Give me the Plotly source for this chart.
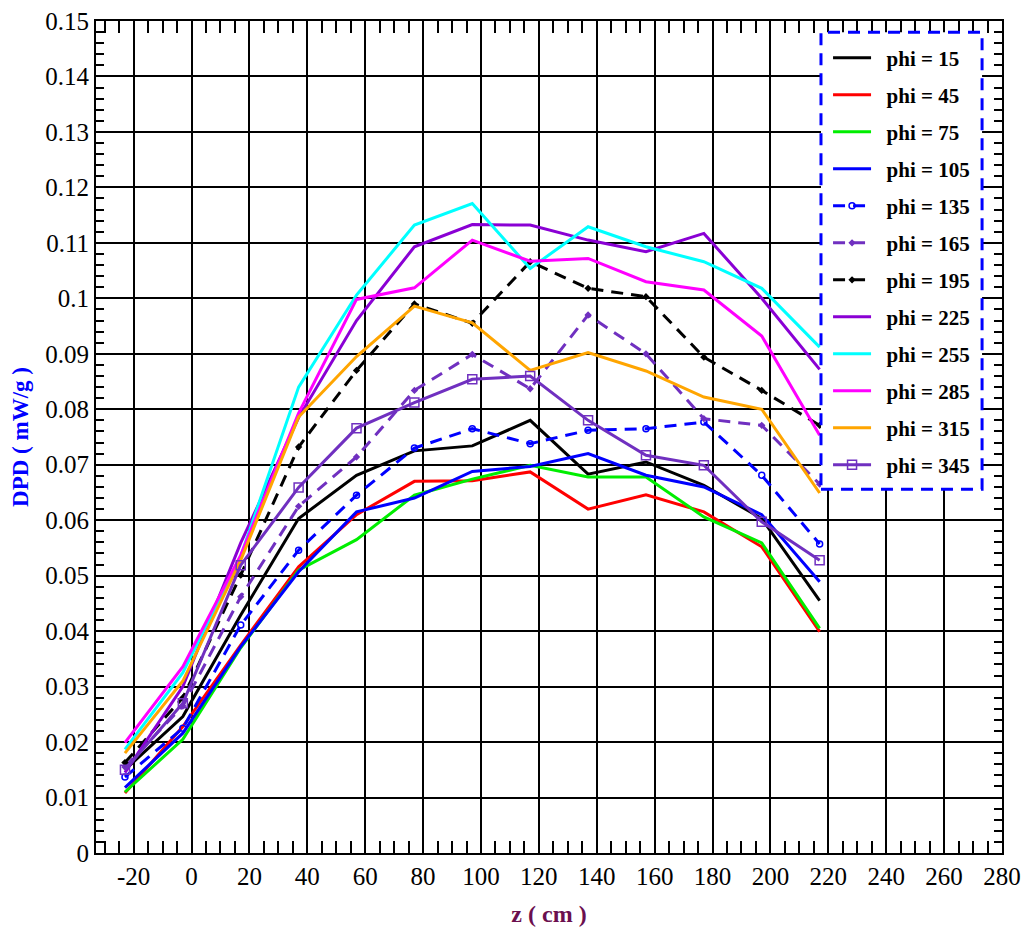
import plotly.graph_objects as go

z = [-23, -3, 17, 37, 57, 77, 97, 117, 137, 157, 177, 197, 217]

phi15 = [0.015, 0.0246, 0.0429, 0.0603, 0.0681, 0.0725, 0.0734, 0.078, 0.0683, 0.0705, 0.0663, 0.0603, 0.0455]
phi45 = [0.0108, 0.0228, 0.0375, 0.0516, 0.061, 0.067, 0.0671, 0.0687, 0.062, 0.0646, 0.0615, 0.0552, 0.0399]
phi75 = [0.011, 0.0205, 0.037, 0.051, 0.0565, 0.0645, 0.0674, 0.0699, 0.0678, 0.0678, 0.0606, 0.0559, 0.0405]
phi105 = [0.0118, 0.0216, 0.0372, 0.0507, 0.0615, 0.064, 0.0688, 0.0697, 0.072, 0.0681, 0.066, 0.061, 0.0489]
phi135 = [0.0137, 0.0225, 0.0411, 0.0546, 0.0645, 0.073, 0.0765, 0.0738, 0.0762, 0.0765, 0.0777, 0.0681, 0.0557]
phi165 = [0.0155, 0.0265, 0.0462, 0.0625, 0.0714, 0.0834, 0.0899, 0.0837, 0.097, 0.09, 0.0783, 0.0771, 0.0665]
phi195 = [0.0163, 0.028, 0.0501, 0.0732, 0.087, 0.099, 0.0955, 0.1066, 0.1018, 0.1003, 0.0894, 0.0834, 0.0771]
phi225 = [0.0145, 0.030, 0.0559, 0.0785, 0.096, 0.1093, 0.1133, 0.1132, 0.1105, 0.1084, 0.1117, 0.10, 0.0872]
phi255 = [0.0187, 0.0325, 0.0535, 0.084, 0.1006, 0.1132, 0.1171, 0.1054, 0.1129, 0.1093, 0.1066, 0.1018, 0.0912]
phi285 = [0.0199, 0.0336, 0.0537, 0.0793, 0.0998, 0.1019, 0.1105, 0.1067, 0.1072, 0.103, 0.1015, 0.0932, 0.0753]
phi315 = [0.018, 0.031, 0.0528, 0.0786, 0.0895, 0.0986, 0.0956, 0.087, 0.0902, 0.0869, 0.0822, 0.08, 0.0649]
phi345 = [0.015, 0.027, 0.0519, 0.0659, 0.0766, 0.0812, 0.0854, 0.086, 0.078, 0.0717, 0.0699, 0.0597, 0.0528]

series_names = ["phi = 15", "phi = 45", "phi = 75", "phi = 105", "phi = 135", "phi = 165",
                "phi = 195", "phi = 225", "phi = 255", "phi = 285", "phi = 315", "phi = 345"]
series_values = [phi15, phi45, phi75, phi105, phi135, phi165, phi195, phi225, phi255, phi285, phi315, phi345]

x_tickvals = [-20, 0, 20, 40, 60, 80, 100, 120, 140, 160, 180, 200, 220, 240, 260, 280]
x_ticktext = ["-20", "0", "20", "40", "60", "80", "100", "120", "140", "160", "180", "200", "220", "240", "260", "280"]
y_tickvals = [0, 0.01, 0.02, 0.03, 0.04, 0.05, 0.06, 0.07, 0.08, 0.09, 0.1, 0.11, 0.12, 0.13, 0.14, 0.15]
y_ticktext = ["0", "0.01", "0.02", "0.03", "0.04", "0.05", "0.06", "0.07", "0.08", "0.09", "0.1",
              "0.11", "0.12", "0.13", "0.14", "0.15"]

styles = [
    dict(color="#000000", dash="solid", symbol=None),
    dict(color="#ff0000", dash="solid", symbol=None),
    dict(color="#00ee00", dash="solid", symbol=None),
    dict(color="#0000ff", dash="solid", symbol=None),
    dict(color="#0000ff", dash="12px,8px", symbol="circle-open", size=6),
    dict(color="#7030c0", dash="12px,8px", symbol="diamond", size=4),
    dict(color="#000000", dash="12px,8px", symbol="diamond", size=4),
    dict(color="#8a00d4", dash="solid", symbol=None),
    dict(color="#00ffff", dash="solid", symbol=None),
    dict(color="#ff00ff", dash="solid", symbol=None),
    dict(color="#ffa500", dash="solid", symbol=None),
    dict(color="#7030c0", dash="solid", symbol="square-open", size=9),
]

fig = go.Figure()
for i, (name, vals, st) in enumerate(zip(series_names, series_values, styles)):
    mode = "lines+markers" if st["symbol"] else "lines"
    kw = {}
    if st["symbol"]:
        kw["marker"] = dict(symbol=st["symbol"], size=st["size"], color=st["color"],
                            line=dict(color=st["color"], width=1.5))
    fig.add_trace(go.Scatter(x=z, y=vals, name=f"&nbsp;&nbsp;<b>{name}</b>", mode=mode, legendgroup=f"g{i}",
                             line=dict(color=st["color"], width=3, dash=st["dash"]), **kw))

axis_font = dict(family="Liberation Serif", size=25, color="black")

fig.update_xaxes(
    range=[-33, 280], tickvals=x_tickvals, ticktext=x_ticktext, automargin=False,
    showgrid=True, gridcolor="black", gridwidth=2,
    showline=True, linecolor="black", linewidth=2, mirror="allticks",
    ticks="inside", ticklen=12, tickcolor="black", tickwidth=2,
    minor=dict(dtick=5, tick0=0, ticks="inside", ticklen=12, tickcolor="black", tickwidth=2, showgrid=False),
    tickfont=axis_font, zeroline=False,
    title=dict(text="<b>z ( cm )</b>", font=dict(family="Liberation Serif", size=24, color="#6b0f4f"),
               standoff=18),
)
fig.update_yaxes(
    range=[0, 0.15], tickvals=y_tickvals, ticktext=y_ticktext, automargin=False,
    showgrid=True, gridcolor="black", gridwidth=2,
    showline=True, linecolor="black", linewidth=2, mirror="allticks",
    ticks="inside", ticklen=8, tickcolor="black", tickwidth=2,
    minor=dict(dtick=0.002, tick0=0, ticks="inside", ticklen=8, tickcolor="black", tickwidth=2, showgrid=False),
    tickfont=axis_font, zeroline=False,
    title=dict(text="<b>DPD ( mW/g )</b>", font=dict(family="Liberation Serif", size=23, color="#0000ff"),
               standoff=10),
)

# dashed legend frame
fig.add_shape(type="rect", xref="paper", yref="paper",
              x0=0.8002, x1=0.978, y0=0.4373, y1=0.9864,
              line=dict(color="#0000ff", width=3, dash="12px,8px"),
              fillcolor="white", layer="above")

fig.update_layout(
    width=1024, height=927,
    margin=dict(l=96, r=22, t=21, b=74),
    paper_bgcolor="white", plot_bgcolor="white",
    showlegend=True,
    legend=dict(x=0.808, y=0.98, xanchor="left", yanchor="top",
                bgcolor="rgba(0,0,0,0)", borderwidth=0,
                font=dict(family="Liberation Serif", size=21, color="black"),
                tracegroupgap=6.7, itemwidth=38),
    font=dict(family="Liberation Serif"),
)

fig.write_html("out.html")
